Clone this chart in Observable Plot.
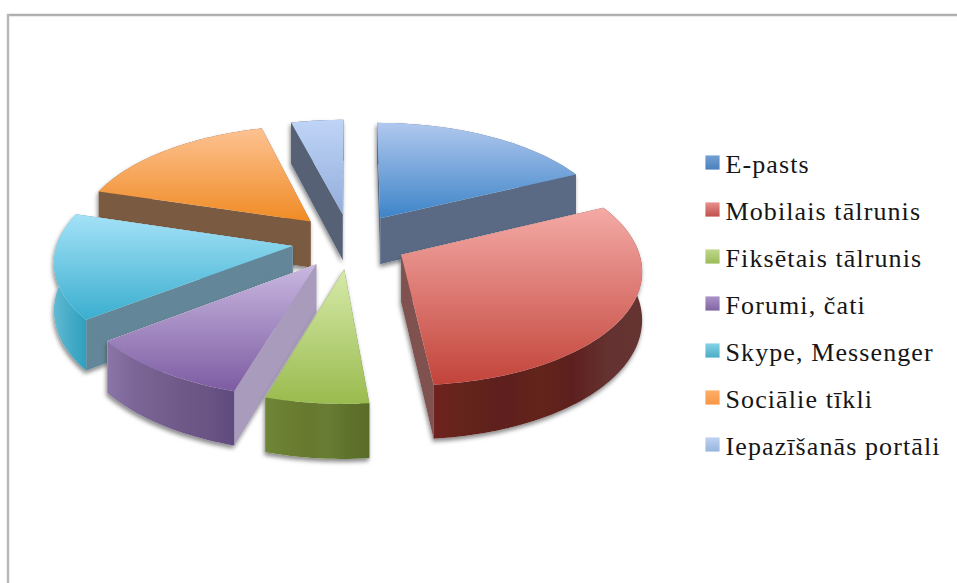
<!DOCTYPE html>
<html><head><meta charset="utf-8">
<script src="https://cdn.jsdelivr.net/npm/d3@7"></script>
<script src="https://cdn.jsdelivr.net/npm/@observablehq/plot@0.6"></script>
<style>html,body{margin:0;padding:0;background:#fff}svg{display:block}</style>
</head><body><div id="chart"></div>
<script>
const categories = ["E-pasts","Mobilais tālrunis","Fiksētais tālrunis","Forumi, čati","Skype, Messenger","Sociālie tīkli","Iepazīšanās portāli"];
const shares = [17.9,30.6,6.1,10,15.1,16.2,4.1];
const topLight = ["#b0c8ee","#f4aaa6","#d6eaaa","#c9b8e0","#a4e2f7","#fdc292","#bfd4f6"];
const topDark  = ["#3d84c8","#c2443a","#9abb4e","#7d5ca2","#3aaecf","#f08b24","#93aedc"];
const keyLight = ["#74a0d4","#e88f8d","#c0d78c","#ac92c8","#84d3e6","#fdae66","#bfd2f2"];
const keyDark  = ["#4a80bd","#c0504d","#9bbb59","#8064a2","#4bacc6","#f79646","#98b5dc"];
const sideColor = ["#5a6a85","#7f5250","#5c6e2c","#a89bbc","#638799","#7a5a40","#566176"];
const arcColors = [
  ["#5a6a85","#5a6a85"],
  ["#702220","#62241a","#5e1f1e","#62241a","#5e201e","#643230","#653330"],
  ["#6f8538","#6b7f32","#66792f","#687c33","#5e722c","#5a6c29"],
  ["#8a76a6","#7c6698","#74608e","#6e5888","#6a5484","#5e4a7e"],
  ["#63bad2","#4fb0cb","#3ea8c4","#2ea0bf"],
  ["#7a5a40","#7a5a40"],
  ["#566176","#566176"]
];
const paintOrder = [6,0,5,4,1,3,2];

// view of the tilted, exploded pie
const W = 957, H = 583, cx = 349.5, cy = 240.5, R = 235, burst = 58, tilt = 0.475, dist = 2000, depth = 47;
const project = (X, Y, z = 0) => { const f = 1 / (1 - Y / dist); return {x: cx + X * f, y: cy + Y * tilt * f + z * f}; };
const rad = d => d * Math.PI / 180;
const total = d3.sum(shares);
let acc = 0;
const slices = shares.map((v, i) => {
  const a0 = acc / total * 360; acc += v; const a1 = acc / total * 360; const m = rad((a0 + a1) / 2);
  const ox = burst * Math.sin(m), oy = -burst * Math.cos(m);
  const at = (a, r, z = 0) => project(ox + r * Math.sin(rad(a)), oy - r * Math.cos(rad(a)), z);
  const angles = []; for (let a = a0; a < a1; a += 1.5) angles.push(a); angles.push(a1);
  const rim = angles.map(a => at(a, R));
  const rimLow = angles.map(a => at(a, R, depth)).reverse();
  return {
    i,
    top: [at(0, 0), ...rim],
    wallA: [at(0, 0), at(a0, R), at(a0, R, depth), at(0, 0, depth)],
    wallB: [at(0, 0), at(a1, R), at(a1, R, depth), at(0, 0, depth)],
    arc: [...rim, ...rimLow]
  };
});

function gradient(d, id, colors, horizontal) {
  const g = d.append("linearGradient").attr("id", id).attr("x1", 0).attr("y1", 0)
    .attr("x2", horizontal ? 1 : 0).attr("y2", horizontal ? 0 : 1);
  colors.forEach((c, k) => g.append("stop").attr("offset", k / (colors.length - 1)).attr("stop-color", c));
}
function defs() {
  const d = d3.create("svg:defs");
  categories.forEach((_, i) => {
    gradient(d, "top" + i, [topLight[i], topDark[i]], false);
    gradient(d, "key" + i, [keyLight[i], keyDark[i]], false);
    gradient(d, "arc" + i, arcColors[i], true);
  });
  return d.node();
}

const poly = (pts, fill) => Plot.line(pts, {x: "x", y: "y", fill, stroke: "none"});
const pieMarks = paintOrder.flatMap(i => {
  const s = slices[i];
  const outline = [["a", s.wallA], ["b", s.wallB], ["c", s.arc], ["d", s.top]].flatMap(([k, pts]) => pts.map(p => ({...p, k})));
  return [
    Plot.line(outline, {x: "x", y: "y", z: "k", fill: "#fff", stroke: "none",
      imageFilter: "drop-shadow(-1px 3px 2px rgba(60,60,60,0.6))"}),
    poly(s.wallB, sideColor[i]),
    poly(s.wallA, sideColor[i]),
    poly(s.arc, `url(#arc${i})`),
    poly(s.top, `url(#top${i})`)
  ];
});
const legendY = i => 161.5 + i * 47;
const legendMarks = categories.flatMap((c, i) => [
  Plot.dot([c], {x: () => 712, y: () => 162 + i * 47, symbol: "square", r: 8, fill: `url(#key${i})`, stroke: "none"}),
  Plot.text([c], {x: () => 725, y: () => legendY(i) + 11, text: d => d, textAnchor: "start", lineAnchor: "bottom", fill: "#161616",
    fontFamily: "Liberation Serif", fontSize: 26})
]);

const chart = Plot.plot({
  width: W, height: H, margin: 0,
  style: {letterSpacing: "1.1px"},
  x: {domain: [0, W], range: [0, W], axis: null},
  y: {domain: [0, H], range: [0, H], axis: null},
  marks: [
    defs,
    Plot.ruleY([14.5], {x1: 7, x2: W, stroke: "#b0b0b0", strokeWidth: 2.5}),
    Plot.ruleX([7.5], {y1: 14, y2: H, stroke: "#b9b9b9", strokeWidth: 2.5}),
    ...pieMarks,
    ...legendMarks
  ]
});
document.getElementById("chart").append(chart);
</script></body></html>
